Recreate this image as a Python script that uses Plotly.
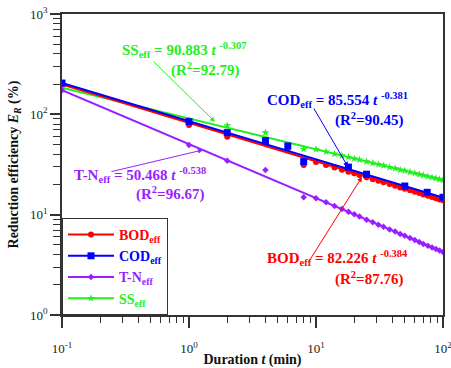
import plotly.graph_objects as go

# ---------------- data ----------------
t_sparse = [0.1, 1, 2, 4, 6, 8]
t_dense = [10, 12, 14, 16, 18, 20, 22, 25, 28, 31, 34, 38, 42, 46, 50, 55, 60, 65, 70, 76, 82, 88, 94, 100]

bod_sparse = [199, 78.4, 59.9, 51.5, 45.9, 31.3]
bod_dense = [33.5, 31.2, 29.6, 28.0, 26.8, 25.8, 24.8, 23.6, 22.6, 21.8, 21.0, 20.2, 19.4, 18.7, 18.1, 17.5, 16.9, 16.4, 15.9, 15.4, 15.0, 14.6, 14.2, 13.9]

cod_t = [0.1, 1, 2, 4, 6, 8, 18, 25, 50, 75, 100]
cod_vals = [205, 84.6, 65.7, 54.7, 48.4, 33.8, 29.8, 25.3, 19.3, 16.7, 14.9]

tn_sparse = [0.1, 1, 2, 4, 8]
tn_sparse_vals = [174, 49.5, 34.5, 27.9, 14.9]
tn_dense = [14.6, 13.3, 12.2, 11.4, 10.7, 10.1, 9.6, 8.9, 8.4, 7.95, 7.6, 7.1, 6.8, 6.4, 6.15, 5.85, 5.6, 5.35, 5.1, 4.9, 4.7, 4.55, 4.4, 4.24]

ss_sparse = [0.1, 1, 2, 4, 8]
ss_sparse_vals = [184, 88, 77.1, 65.7, 44.9]
ss_dense = [44.8, 42.4, 40.4, 38.8, 37.4, 36.2, 35.2, 33.8, 32.7, 31.7, 30.8, 29.7, 28.9, 28.0, 27.4, 26.6, 25.9, 25.2, 24.7, 24.0, 23.5, 23.0, 22.5, 22.1]

# fitted power-law lines (endpoints read at t = 0.1 and t = 100)
fit_t = [0.1, 100]
bod_fit = [199.1, 14.03]
cod_fit = [205.7, 14.80]
tn_fit = [174.2, 4.24]
ss_fit = [184.3, 22.10]

names = ["BOD", "COD", "T-N", "SS"]
colors = ["#FF0000", "#0000FF", "#9B1EFF", "#22EE22"]
symbols = ["circle", "square", "diamond", "star"]
msizes = [6, 7, 5, 6]

equations = [
    ("BOD", "82.226", "-0.384", "87.76"),
    ("COD", "85.554", "-0.381", "90.45"),
    ("T-N", "50.468", "-0.538", "96.67"),
    ("SS", "90.883", "-0.307", "92.79"),
]

FONT = "Liberation Serif"

fig = go.Figure()

fits = [bod_fit, cod_fit, tn_fit, ss_fit]
pts_x = [t_sparse + t_dense, cod_t, tn_sparse + t_dense, ss_sparse + t_dense]
pts_y = [bod_sparse + bod_dense, cod_vals, tn_sparse_vals + tn_dense, ss_sparse_vals + ss_dense]

# draw order: SS, T-N, BOD, COD (COD on top)
order = [3, 2, 0, 1]
for i in order:
    fig.add_trace(go.Scatter(x=fit_t, y=fits[i], mode="lines",
                             line=dict(color=colors[i], width=2), showlegend=False, hoverinfo="skip"))
    fig.add_trace(go.Scatter(x=pts_x[i], y=pts_y[i], mode="markers",
                             marker=dict(color=colors[i], symbol=symbols[i], size=msizes[i],
                                         line=dict(width=0)),
                             showlegend=False))

for i in range(4):
    fig.add_trace(go.Scatter(
        x=[None], y=[None], mode="lines+markers",
        line=dict(color=colors[i], width=2),
        marker=dict(color=colors[i], symbol=symbols[i], size=msizes[i]),
        name=f'<b><span style="color:{colors[i]}">{names[i]}<sub>eff</sub></span></b>'))

# equation texts (paper coords, centres)
txt_pos = {
    "SS": ((0.320, 0.880), (0.375, 0.814)),
    "COD": ((0.723, 0.714), (0.805, 0.648)),
    "T-N": ((0.205, 0.465), (0.283, 0.405)),
    "BOD": ((0.723, 0.189), (0.805, 0.120)),
}
for (nm, a, b, r2) in equations:
    c = colors[names.index(nm)]
    (x1, y1), (x2, y2) = txt_pos[nm]
    fig.add_annotation(xref="paper", yref="paper", x=x1, y=y1, showarrow=False,
                       xanchor="center", yanchor="middle",
                       text=f"<b>{nm}<sub>eff</sub> = {a} <i>t</i> <sup>{b}</sup></b>",
                       font=dict(family=FONT, size=15, color=c))
    fig.add_annotation(xref="paper", yref="paper", x=x2, y=y2, showarrow=False,
                       xanchor="center", yanchor="middle",
                       text=f"<b>(R<sup>2</sup>={r2})</b>",
                       font=dict(family=FONT, size=15, color=c))

# arrows: tip in log-data coords, tail offset in px
arrows = {
    "SS": (0.2047, 1.924, -63, -62),
    "COD": (1.252, 1.4756, -35, -60),
    "T-N": (0.110, 1.645, -93, 22),
    "BOD": (1.362, 1.376, -54, 86),
}
for nm, (ax_, ay_, dx, dy) in arrows.items():
    c = colors[names.index(nm)]
    fig.add_annotation(xref="x", yref="y", x=ax_, y=ay_, ax=dx, ay=dy, text="",
                       showarrow=True, arrowhead=2, arrowsize=1, arrowwidth=1, arrowcolor=c)

xt = [0.1, 1, 10, 100]
xt_txt = ["10<sup>-1</sup>", "10<sup>0</sup>", "10<sup>1</sup>", "10<sup>2</sup>"]
yt = [1, 10, 100, 1000]
yt_txt = ["10<sup>0</sup>", "10<sup>1</sup>", "10<sup>2</sup>", "10<sup>3</sup>"]
minor_x = [m * d for d in [0.1, 1, 10] for m in range(2, 10)]
minor_y = [m * d for d in [1, 10, 100] for m in range(2, 10)]

axcol = "#333333"
fig.update_xaxes(type="log", range=[-1, 2], tickvals=xt, ticktext=xt_txt,
                 ticks="outside", ticklen=11, tickwidth=1.5, tickcolor=axcol,
                 ticklabelstandoff=10, automargin=False, ticklabeloverflow="allow",
                 minor=dict(tickvals=minor_x, ticks="outside", ticklen=6, tickwidth=1, tickcolor=axcol),
                 showline=True, linecolor=axcol, linewidth=1.5, mirror=True, showgrid=False,
                 tickfont=dict(family=FONT, size=13, color="#222"),
                 title=dict(text="<b>Duration <i>t</i> (min)</b>", standoff=4,
                            font=dict(family=FONT, size=14, color="#111")))
fig.update_yaxes(type="log", range=[0, 3], tickvals=yt, ticktext=yt_txt,
                 ticks="outside", ticklen=10, tickwidth=1.5, tickcolor=axcol,
                 automargin=False, ticklabeloverflow="allow",
                 minor=dict(tickvals=minor_y, ticks="outside", ticklen=7, tickwidth=1, tickcolor=axcol),
                 showline=True, linecolor=axcol, linewidth=1.5, mirror=True, showgrid=False,
                 tickfont=dict(family=FONT, size=13, color="#222"),
                 title=dict(text="<b>Reduction efficiency <i>E<sub>R</sub></i> (%)</b>", standoff=8,
                            font=dict(family=FONT, size=14, color="#111")))

fig.update_layout(
    width=451, height=368,
    margin=dict(l=62, r=8, t=14, b=53),
    paper_bgcolor="white", plot_bgcolor="white",
    legend=dict(x=0, y=0, xanchor="left", yanchor="bottom",
                bgcolor="white", bordercolor=axcol, borderwidth=1,
                font=dict(family=FONT, size=14), itemwidth=46, tracegroupgap=0),
)

fig.write_html("out.html")
